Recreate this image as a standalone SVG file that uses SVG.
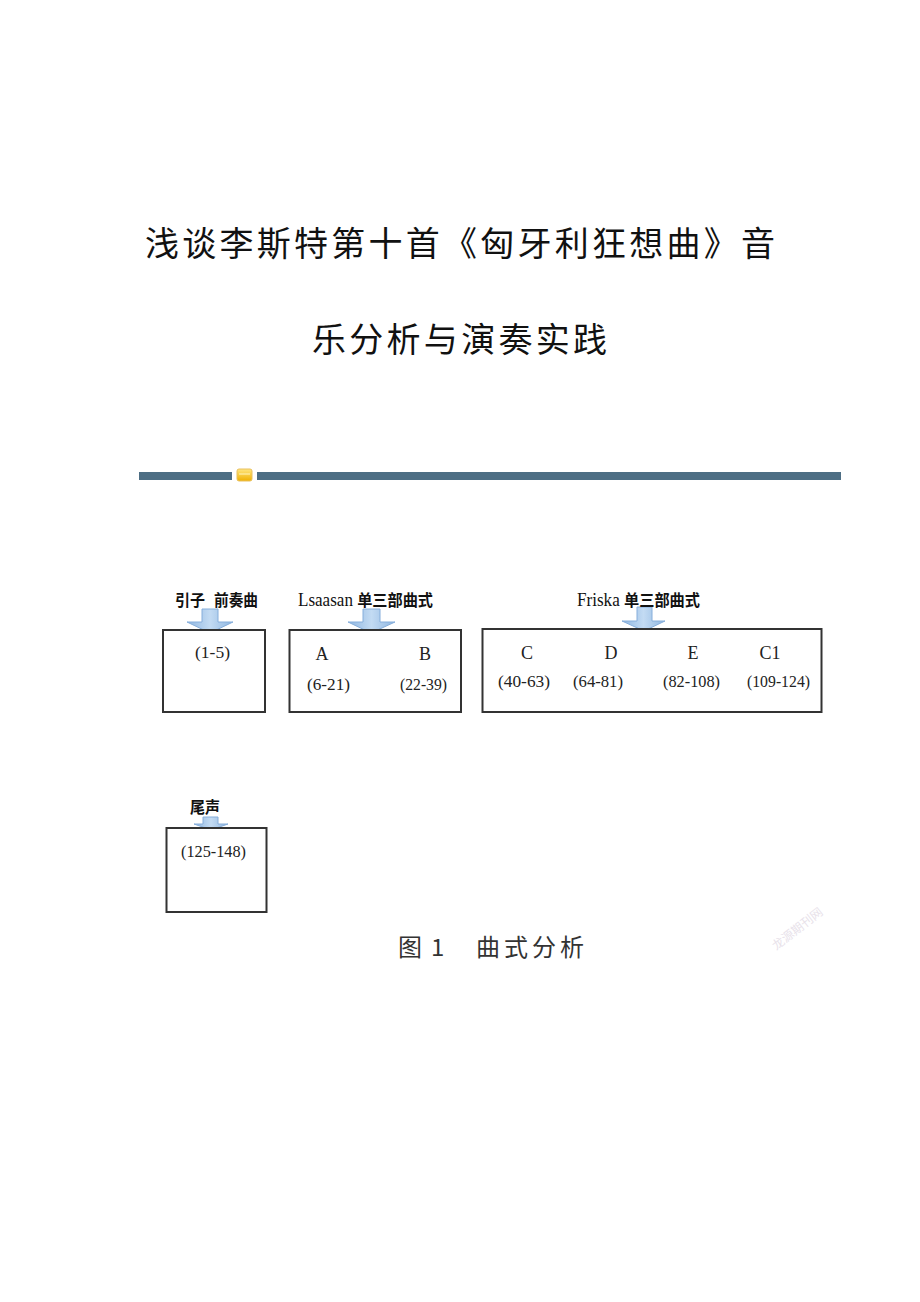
<svg xmlns="http://www.w3.org/2000/svg" width="920" height="1302" viewBox="0 0 920 1302">
<defs>
<linearGradient id="ag" x1="0" y1="0" x2="1" y2="0">
<stop offset="0" stop-color="#8fb6e0"/>
<stop offset="0.5" stop-color="#c3dbf3"/>
<stop offset="1" stop-color="#8fb6e0"/>
</linearGradient>
<linearGradient id="ig" x1="0" y1="0" x2="0" y2="1">
<stop offset="0" stop-color="#ffe680"/>
<stop offset="1" stop-color="#f0b000"/>
</linearGradient>
<style>
.title{font-family:"Noto Sans CJK SC","Noto Sans CJK JP",sans-serif;font-size:34px;fill:#111}
.hd{font-family:"Noto Sans CJK SC",sans-serif;font-size:16px;font-weight:bold;fill:#111}
.hl{font-family:"Liberation Serif","Noto Sans CJK SC",serif;font-size:18px;fill:#111}
.lt{font-family:"Liberation Serif",serif;font-size:18px;fill:#222;text-anchor:middle}
.nm{font-family:"Liberation Serif","Noto Sans CJK SC",serif;font-size:17px;fill:#222}
.box{fill:#fff;stroke:#333;stroke-width:2}
.arr{fill:url(#ag);stroke:#86aedb;stroke-width:1}
.cap{font-family:"Noto Sans CJK SC",sans-serif;font-size:24px;fill:#333}
</style>
</defs>
<rect width="920" height="1302" fill="#fff"/>
<g id="title">
<text class="title" x="145" y="256" textLength="630" lengthAdjust="spacing">浅谈李斯特第十首《匈牙利狂想曲》音</text>
<text class="title" x="312" y="352" textLength="295" lengthAdjust="spacing">乐分析与演奏实践</text>
</g>
<g id="divider">
<rect x="139" y="472" width="93" height="8" fill="#4d6e84"/>
<rect x="257" y="472" width="584" height="8" fill="#4d6e84"/>
<rect x="237" y="469" width="15" height="12" rx="2" fill="url(#ig)" stroke="#e8c060" stroke-width="1"/>
<line x1="239" y1="474" x2="250" y2="474" stroke="#fff6c0" stroke-width="1"/>
</g>
<g id="connectors">
<path class="arr" d="M202,609 H218 V622 H233 L210,633 L187,622 H202 Z"/>
<path class="arr" d="M363,609 H380 V622 H395 L371,633 L348,622 H363 Z"/>
<path class="arr" d="M637,607 H652 V621 H665 L644,631 L622,621 H637 Z"/>
<path class="arr" d="M203,817 H218 V824 H228 L211,830 L194,824 H203 Z"/>
</g>
<g id="intro">
<text class="hd" x="175" y="606" textLength="30" lengthAdjust="spacingAndGlyphs">引子</text>
<text class="hd" x="214" y="606" textLength="44" lengthAdjust="spacingAndGlyphs">前奏曲</text>
<rect class="box" x="163" y="630" width="102" height="82"/>
<text class="nm" x="195" y="658" textLength="35" lengthAdjust="spacingAndGlyphs">(1-5)</text>
</g>
<g id="lsaasan">
<text x="298" y="606" textLength="135" lengthAdjust="spacingAndGlyphs"><tspan class="hl">Lsaasan </tspan><tspan class="hd">单三部曲式</tspan></text>
<rect class="box" x="289.5" y="630" width="171.5" height="82"/>
<text class="lt" x="322" y="660">A</text>
<text class="lt" x="425" y="660">B</text>
<text class="nm" x="307" y="690" textLength="43" lengthAdjust="spacingAndGlyphs">(6-21)</text>
<text class="nm" x="400" y="690" textLength="47" lengthAdjust="spacingAndGlyphs">(22-39)</text>
</g>
<g id="friska">
<text x="577" y="606" textLength="123" lengthAdjust="spacingAndGlyphs"><tspan class="hl">Friska </tspan><tspan class="hd">单三部曲式</tspan></text>
<rect class="box" x="482.5" y="629" width="339" height="83"/>
<text class="lt" x="527" y="659">C</text>
<text class="lt" x="611" y="659">D</text>
<text class="lt" x="693" y="659">E</text>
<text class="lt" x="770" y="659">C1</text>
<text class="nm" x="498" y="687" textLength="52" lengthAdjust="spacingAndGlyphs">(40-63)</text>
<text class="nm" x="573" y="687" textLength="50" lengthAdjust="spacingAndGlyphs">(64-81)</text>
<text class="nm" x="663" y="687" textLength="57" lengthAdjust="spacingAndGlyphs">(82-108)</text>
<text class="nm" x="747" y="687" textLength="63" lengthAdjust="spacingAndGlyphs">(109-124)</text>
</g>
<g id="coda">
<text class="hd" x="190" y="813" textLength="30" lengthAdjust="spacingAndGlyphs">尾声</text>
<rect class="box" x="166.5" y="828" width="100" height="84"/>
<text class="nm" x="181" y="857" textLength="65" lengthAdjust="spacingAndGlyphs">(125-148)</text>
</g>
<g id="caption">
<text class="cap" x="398" y="956">图</text>
<text class="cap" x="431" y="956">1</text>
<text class="cap" x="476" y="956" textLength="108" lengthAdjust="spacing">曲式分析</text>
</g>
<g id="watermark">
<text x="800" y="932" transform="rotate(-38 800 932)" font-family="Noto Sans CJK SC,sans-serif" font-size="12" fill="#e8e2ea" text-anchor="middle">龙源期刊网</text>
</g>
</svg>
